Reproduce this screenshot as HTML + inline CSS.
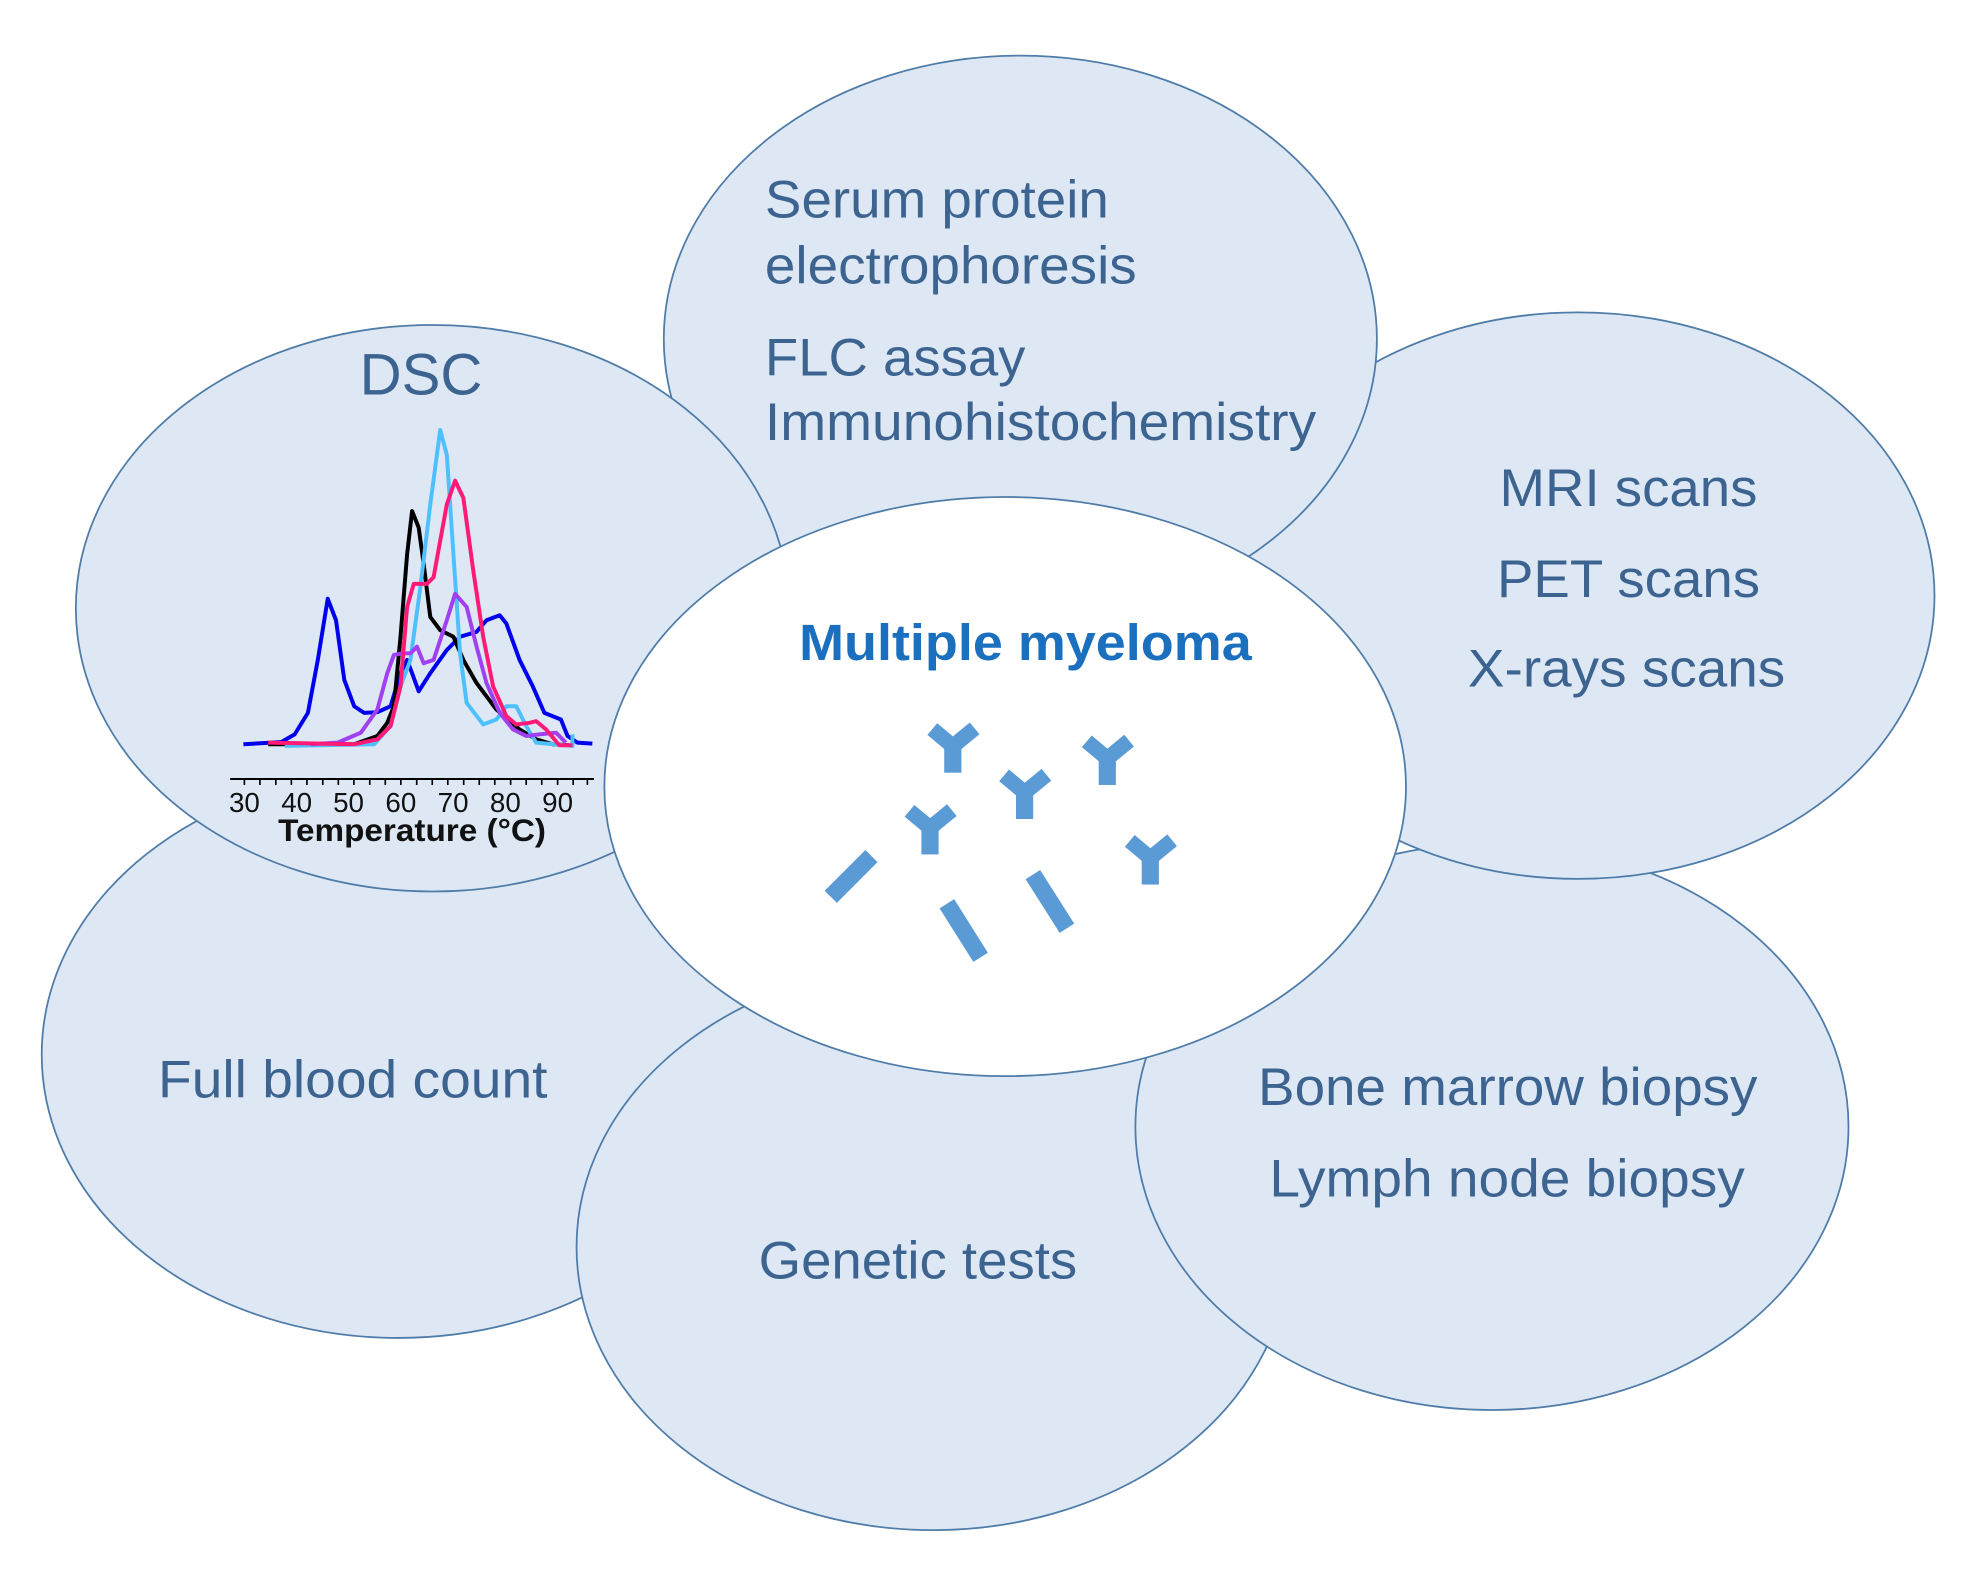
<!DOCTYPE html>
<html><head><meta charset="utf-8"><style>
html,body{margin:0;padding:0;background:#fff;}
svg{display:block;}
text{font-family:"Liberation Sans",sans-serif;}
</style></head><body>
<svg width="1980" height="1582" viewBox="0 0 1566 1251" preserveAspectRatio="none" xmlns="http://www.w3.org/2000/svg">
<g fill="#dde8f4" stroke="#4f7ca8" stroke-width="1.4">
<ellipse cx="315" cy="834" rx="282" ry="224"/>
<ellipse cx="738" cy="986" rx="282" ry="224"/>
<ellipse cx="1180" cy="891" rx="282" ry="224"/>
<ellipse cx="1248" cy="471" rx="282" ry="224"/>
<ellipse cx="807" cy="268" rx="282" ry="224"/>
<ellipse cx="342" cy="481" rx="282" ry="224"/>
<ellipse cx="795" cy="622" rx="317" ry="229" fill="#fff"/>
</g>
<g fill="#3d6490" font-size="42">
<text x="605" y="172" textLength="272" lengthAdjust="spacingAndGlyphs">Serum protein</text>
<text x="605" y="224" textLength="294" lengthAdjust="spacingAndGlyphs">electrophoresis</text>
<text x="605" y="297" textLength="206" lengthAdjust="spacingAndGlyphs">FLC assay</text>
<text x="605" y="348" textLength="436" lengthAdjust="spacingAndGlyphs">Immunohistochemistry</text>
<text x="333" y="312" font-size="46" text-anchor="middle">DSC</text>
<text x="1186" y="400" textLength="204" lengthAdjust="spacingAndGlyphs">MRI  scans</text>
<text x="1184" y="472" textLength="208" lengthAdjust="spacingAndGlyphs">PET scans</text>
<text x="1161" y="543" textLength="251" lengthAdjust="spacingAndGlyphs">X-rays scans</text>
<text x="125" y="868" textLength="308" lengthAdjust="spacingAndGlyphs">Full blood count</text>
<text x="600" y="1011" textLength="252" lengthAdjust="spacingAndGlyphs">Genetic tests</text>
<text x="995" y="874" textLength="395" lengthAdjust="spacingAndGlyphs">Bone marrow biopsy</text>
<text x="1004" y="946" textLength="376" lengthAdjust="spacingAndGlyphs">Lymph node biopsy</text>
</g>
<text x="632" y="522" font-size="40" font-weight="bold" fill="#1a6fbf" textLength="358" lengthAdjust="spacingAndGlyphs">Multiple myeloma</text>
<g transform="translate(175.5,333.5) scale(0.2616)" fill="none" stroke-width="12" stroke-linejoin="round">
<polyline stroke="#0000ee" points="65,975 180,968 220,945 260,880 290,720 320,535 345,600 370,780 400,860 430,880 470,878 510,860 540,760 560,720 575,760 595,815 630,760 680,690 720,650 770,635 800,600 840,585 860,610 900,720 940,800 975,880 1000,890 1025,900 1045,950 1075,970 1120,973"/>
<polyline stroke="#000" points="140,975 400,975 470,950 500,910 520,860 540,650 560,400 575,270 595,320 610,430 630,590 660,630 700,650 730,720 770,790 830,870 900,930 950,960 1000,975 1050,978"/>
<polyline stroke="#4fc0ff" points="190,980 460,975 510,920 540,800 570,720 600,500 630,250 660,25 680,100 700,400 720,700 740,850 790,915 830,900 860,860 890,860 920,920 950,970 1060,980 1060,945"/>
<polyline stroke="#a040f0" points="270,975 350,970 420,940 470,870 500,760 520,705 545,700 570,700 590,680 610,730 640,720 680,600 705,520 740,560 770,680 800,790 840,880 880,930 920,950 960,945 1010,940 1040,970"/>
<polyline stroke="#ff1a78" points="140,970 400,975 470,960 510,920 540,800 560,560 580,490 620,490 640,470 680,250 705,178 730,230 760,450 790,650 820,800 860,890 890,915 930,910 950,905 980,930 1020,978 1060,978"/>
<line x1="25" y1="1080" x2="1125" y2="1080" stroke="#000" stroke-width="6"/>
<path stroke="#000" stroke-width="5" d="M68,1080v18M115,1080v18M163,1080v18M210,1080v18M257,1080v18M305,1080v18M352,1080v18M399,1080v18M447,1080v18M494,1080v18M541,1080v18M589,1080v18M636,1080v18M683,1080v18M731,1080v18M778,1080v18M825,1080v18M873,1080v18M920,1080v18M967,1080v18M1015,1080v18M1062,1080v18M1105,1080v18"/>
<g fill="#111" stroke="none" font-size="84" text-anchor="middle">
<text x="68" y="1180">30</text><text x="226" y="1180">40</text><text x="383" y="1180">50</text><text x="541" y="1180">60</text><text x="699" y="1180">70</text><text x="857" y="1180">80</text><text x="1015" y="1180">90</text>
<text x="575" y="1268" font-size="94" font-weight="bold" textLength="810" lengthAdjust="spacingAndGlyphs">Temperature (°C)</text>
</g>
</g>
<defs>
<g id="y"><path d="M0,0L-62,-52M0,0L66,-54" stroke="#5b9bd5" stroke-width="46" fill="none"/><rect x="-26" y="-8" width="52" height="88" fill="#5b9bd5"/></g>
</defs>
<g transform="translate(633,553.5) scale(0.2616)">
<use href="#y" x="461" y="140"/>
<use href="#y" x="678" y="280"/>
<use href="#y" x="928" y="177"/>
<use href="#y" x="392" y="387"/>
<use href="#y" x="1058" y="478"/>
<g stroke="#5b9bd5" stroke-width="52">
<line x1="92" y1="595" x2="215" y2="472"/>
<line x1="443" y1="616" x2="545" y2="778"/>
<line x1="703" y1="528" x2="806" y2="690"/>
</g>
</g>
</svg>
</body></html>
